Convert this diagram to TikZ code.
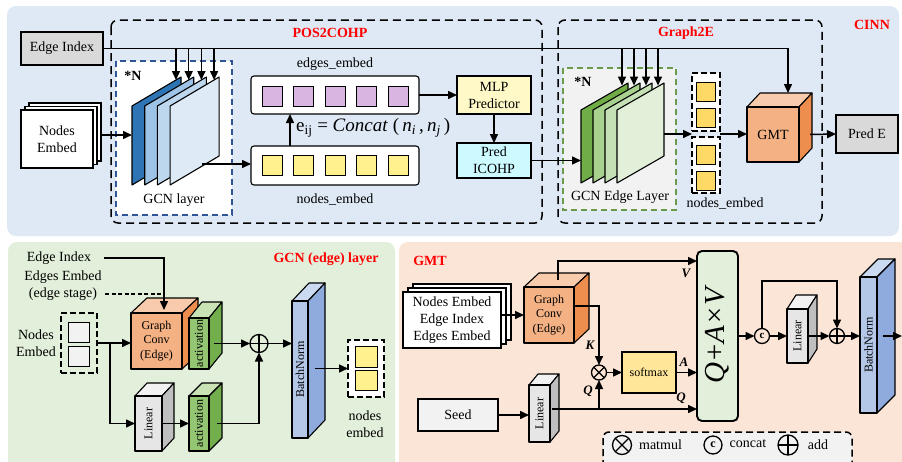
\documentclass[tikz,border=0pt]{standalone}
\usepackage{fontspec}
\setmainfont{Liberation Serif}
\usetikzlibrary{arrows.meta}
\definecolor{topbg}{HTML}{DEE9F5}
\definecolor{grnbg}{HTML}{E2EFDA}
\definecolor{pchbg}{HTML}{FBE5D6}
\definecolor{gry}{HTML}{D9D9D9}
\definecolor{ltg}{HTML}{F2F2F2}
\definecolor{purp}{HTML}{D9B5E1}
\definecolor{yel}{HTML}{FFF18E}
\definecolor{gold}{HTML}{FFD966}
\definecolor{mlpc}{HTML}{FFF9C8}
\definecolor{cyanc}{HTML}{CCFAFF}
\definecolor{titred}{HTML}{FF0000}
\definecolor{bluedash}{HTML}{2F5597}
\definecolor{grndash}{HTML}{6A9A4A}
\definecolor{smc}{HTML}{FFE699}
\definecolor{qavc}{HTML}{E2EFDA}
\definecolor{bA}{HTML}{2E75B6}
\definecolor{bB}{HTML}{9DC3E6}
\definecolor{bC}{HTML}{BDD7EE}
\definecolor{bD}{HTML}{DEEBF7}
\definecolor{gA}{HTML}{70AD47}
\definecolor{gB}{HTML}{A9D18E}
\definecolor{gC}{HTML}{C5E0B4}
\definecolor{gD}{HTML}{E2F0D9}
\definecolor{orF}{HTML}{F4B183}
\definecolor{orT}{HTML}{F8CBAD}
\definecolor{orS}{HTML}{EE8E4E}
\definecolor{acF}{HTML}{93C572}
\definecolor{acT}{HTML}{C9E3B5}
\definecolor{acS}{HTML}{72AE4C}
\definecolor{liF}{HTML}{E7E6E6}
\definecolor{liT}{HTML}{F2F2F2}
\definecolor{liS}{HTML}{BFBFBF}
\definecolor{bnF}{HTML}{B4C7E7}
\definecolor{bnT}{HTML}{CADAF0}
\definecolor{bnS}{HTML}{8FAADC}

% cube: name, x1,y1,x2,y2 (front face), dx, dy (depth), colour prefix
\newcommand{\mkcube}[8]{%
  \draw[cubeln, fill=#8T] (#2,#3) -- ({#2+#6},{#3-#7}) -- ({#4+#6},{#3-#7}) -- (#4,#3) -- cycle;
  \draw[cubeln, fill=#8S] (#4,#3) -- ({#4+#6},{#3-#7}) -- ({#4+#6},{#5-#7}) -- (#4,#5) -- cycle;
  \node[cubeln, fill=#8F, inner sep=0pt, outer sep=0pt, minimum width={(#4-#2)*1pt}, minimum height={(#5-#3)*1pt}] (#1) at ({(#2+#4)/2},{(#3+#5)/2}) {};
}
% plate: left x, left top y, left bottom y, width, rise, colour
\newcommand{\mkplate}[6]{%
  \draw[line width=1.1pt, line join=round, fill=#6] (#1,#3) -- (#1,#2) -- ({#1+#4},{#2-#5}) -- ({#1+#4},{#3-#5}) -- cycle;
}
% box: name, x1,y1,x2,y2, style, text
\newcommand{\mkbox}[7]{%
  \node[#6, minimum width={(#4-#2)*1pt}, minimum height={(#5-#3)*1pt}] (#1) at ({(#2+#4)/2},{(#3+#5)/2}) {#7};
}
\newcommand{\otm}[4]{%
  \node[opc, minimum size=#4] (#1) at (#2,#3) {};
  \draw[line width=1.3pt] (#1.north west) -- (#1.south east) (#1.north east) -- (#1.south west);
}
\newcommand{\opl}[4]{%
  \node[opc, minimum size=#4] (#1) at (#2,#3) {};
  \draw[line width=1.3pt] (#1.north) -- (#1.south) (#1.east) -- (#1.west);
}

\begin{document}
\begin{tikzpicture}[x=1pt,y=-1pt,
  arr/.style={line width=1.5pt,-{Triangle[length=9pt,width=8pt]}},
  ln/.style={line width=1.5pt},
  bx/.style={draw, line width=1.1pt, inner sep=0pt, outer sep=0pt, align=center, font=\fontsize{14}{17}\selectfont},
  dbx/.style={draw, line width=1.5pt, dash pattern=on 8pt off 5pt, rounded corners=7pt},
  grp/.style={draw, line width=1.5pt, dash pattern=on 6pt off 3pt, inner sep=0pt, outer sep=0pt},
  sq/.style={draw, line width=1pt, inner sep=0pt, outer sep=0pt, minimum size=20pt},
  cubeln/.style={draw, line width=1.1pt, line join=round},
  t14/.style={font=\fontsize{14}{17}\selectfont, align=center, inner sep=1pt},
  t12/.style={font=\fontsize{12}{14.5}\selectfont, align=center, inner sep=1pt},
  ttl/.style={font=\fontsize{14}{17}\selectfont\bfseries, text=titred, inner sep=1pt},
  lab/.style={font=\fontsize{13}{15}\selectfont\bfseries\itshape, inner sep=1pt},
  opc/.style={circle, draw, line width=1.3pt, inner sep=0pt, outer sep=0pt},
]
\useasboundingbox (0,0) rectangle (902,461);
\clip (0,0) rectangle (902,461);
\fill[white] (0,0) rectangle (902,461);
% ---------- panels
\fill[topbg, rounded corners=9pt] (7,6) rectangle (899,236);
\fill[grnbg, rounded corners=9pt] (8,242) rectangle (395,480);
\fill[pchbg, rounded corners=9pt] (399,242) rectangle (920,480);

% ================= TOP PANEL
\draw[dbx] (111,20) rectangle (542,223);
\draw[dbx] (558,20) rectangle (822,223);
\node[ttl] at (330,33) {POS2COHP};
\node[ttl] at (686,33) {Graph2E};
\node[ttl] at (872,25) {CINN};

\mkbox{ei}{21}{32}{103}{65}{bx, fill=gry}{Edge Index}

% GCN layer block
\draw[bluedash, line width=1.3pt, dash pattern=on 6pt off 4pt, fill=white] (116,61) rectangle (232,215);
\node[font=\fontsize{14}{17}\selectfont\bfseries] at (133,76) {*N};
\node[t14] at (174,200) {GCN layer};
\mkplate{132}{106}{185}{49}{29}{bA}
\mkplate{144.7}{106}{185}{49}{29}{bB}
\mkplate{157.4}{106}{185}{49}{29}{bC}
\mkplate{170.1}{106}{185}{49}{29}{bD}

% Nodes Embed stack
\mkbox{ne3}{29}{103}{101}{161}{bx, fill=white}{}
\mkbox{ne2}{25}{106.5}{97}{164.5}{bx, fill=white}{}
\mkbox{ne1}{21}{110}{93}{168}{bx, fill=white}{Nodes\\Embed}
\coordinate (pl0) at (132,135);
\draw[arr] (ne3.east |- pl0) -- (pl0);

% embeddings
\mkbox{ee}{251}{76}{419}{114}{bx, fill=white, rounded corners=3pt}{}
\foreach \x in {272,303.5,335,366.5,398} \node[sq, fill=purp] at (\x,96) {};
\mkbox{nb}{251}{146}{419}{185}{bx, fill=white, rounded corners=3pt}{}
\foreach \x in {272,303.5,335,366.5,398} \node[sq, fill=yel] at (\x,165.5) {};
\node[t14] at (335,64) {edges\_embed};
\node[t14] at (335,200) {nodes\_embed};
\coordinate (up) at (290,0);
\draw[arr] (nb.north -| up) -- (ee.south -| up);
\node[anchor=west, font=\fontsize{19}{22}\selectfont, inner sep=0pt] (eq) at (296,128)
  {e\textsubscript{ij} = \textit{Concat} (\,\textit{n}\textsubscript{\textit{i}}\,,\,\textit{n}\textsubscript{\textit{j}}\,)};
\coordinate (pl3) at (202,164);
\draw[arr] (pl3) -- (nb.west |- pl3);

\mkbox{mlp}{457}{76}{531}{114}{bx, fill=mlpc}{MLP\\Predictor}
\mkbox{pic}{457}{143}{531}{178}{bx, fill=cyanc}{Pred\\ICOHP}
\draw[arr] (ee.east) -- (mlp.west |- ee.east);
\draw[arr] (mlp.south) -- (pic.north);

% Graph2E block
\draw[grndash, line width=1.3pt, dash pattern=on 6pt off 4pt, fill=ltg] (563,68) rectangle (676,210);
\node[font=\fontsize{14}{17}\selectfont\bfseries] at (583,82) {*N};
\node[t14] at (620,197) {GCN Edge Layer};
\mkplate{581}{110}{183}{47}{27}{gA}
\mkplate{593}{110}{183}{47}{27}{gB}
\mkplate{605}{110}{183}{47}{27}{gC}
\mkplate{617}{110}{183}{47}{27}{gD}
\coordinate (gp0) at (581,160.5);
\draw[arr] (pic.east) -- (gp0);

\mkbox{g1}{692}{73}{720}{131}{grp, fill=white}{}
\mkbox{g2}{692}{137}{720}{193}{grp, fill=white}{}
\node[sq, fill=gold, minimum size=19pt] at (706,91.5) {};
\node[sq, fill=gold, minimum size=19pt] at (706,117.5) {};
\node[sq, fill=gold, minimum size=19pt] at (706,154.5) {};
\node[sq, fill=gold, minimum size=19pt] at (706,180.5) {};
\node[t14] at (725,204) {nodes\_embed};
\coordinate (gp3) at (664,134);
\draw[arr] (gp3) -- (g2.west |- gp3);

\mkcube{gmt}{747}{107}{799}{162}{13}{14}{or}
\node[t14] at (gmt) {GMT};
\draw[arr] (g1.east |- gp3) -- (gmt.west |- gp3);
\mkbox{pe}{836}{115}{898}{153}{bx, fill=gry}{Pred E}
\draw[arr] ([xshift=11pt]gmt.east) -- (pe.west);

% edge index line and arrows
\coordinate (gmtTop) at (788,93);
\draw[arr] (ei.east) -| (gmtTop);
\foreach \x in {176,188.7,201.4,214.1} \draw[arr] (\x,48.5) -- (\x,80);
\foreach \x in {622,634,646,658} \draw[arr] (\x,48.5) -- (\x,85.5);

% ================= BOTTOM LEFT
\node[ttl] at (326,259) {GCN (edge) layer};
\node[t14] (bei) at (59,258) {Edge Index};
\node[t14] (bes) at (63,277) {Edges Embed};
\node[t14] (bst) at (63,294) {(edge stage)};

\node[t14] at (36,343) {Nodes\\Embed};
\mkbox{ig}{61}{313}{97}{373}{grp}{}
\node[sq, fill=ltg, minimum width=21pt, minimum height=20pt] at (78.5,332) {};
\node[sq, fill=ltg, minimum width=21pt, minimum height=20pt] at (78.5,356) {};

\mkcube{gc1}{131}{313}{182}{369}{16}{15}{or}
\node[t12] at (gc1) {Graph\\Conv\\(Edge)};
\mkcube{ac1}{189}{318}{209}{369}{13}{16}{ac}
\node[t12, rotate=90] at (ac1) {activation};
\mkcube{lin1}{135}{396}{162}{451}{12}{13}{li}
\node[t12, rotate=90] at (lin1) {Linear};
\mkcube{ac2}{189}{396}{209}{451}{13}{13}{ac}
\node[t12, rotate=90] at (ac2) {activation};
\mkcube{bn1}{292}{301}{308}{438}{17}{18}{bn}
\node[t12, rotate=90] at (bn1) {BatchNorm};
\opl{plus1}{259}{343.5}{18pt}

\coordinate (gc1top) at (164,310);
\draw[arr] ([xshift=12pt]bei.east) -| (gc1top);
\draw[line width=1.7pt, dash pattern=on 4pt off 2.5pt] ([xshift=7pt]bst.east) -- ++(56,0);
\draw[arr] (ig.east) -- (gc1.west |- ig.east);
\coordinate (br) at (110,343);
\draw[arr] (br) |- (lin1.west);
\draw[arr] ([xshift=5pt]ac1.east) -- (plus1.west);
\draw[arr] (plus1.east) -- (bn1.west |- plus1.east);
\draw[arr] ([xshift=1pt]lin1.east) -- (ac2.west);
\draw[arr] ([xshift=8pt]ac2.east) -| (plus1.south);

\mkbox{og}{348}{340}{384}{397}{grp, fill=white}{}
\node[sq, fill=yel, minimum width=22pt, minimum height=21pt] at (366,356.5) {};
\node[sq, fill=yel, minimum width=22pt, minimum height=20pt] at (366,380) {};
\draw[arr] ([xshift=7pt]bn1.east |- og.west) -- (og.west);
\node[t14] at (365,424) {nodes\\embed};

% ================= BOTTOM RIGHT (GMT)
\node[ttl] at (430,261) {GMT};
\mkbox{in3}{413}{284}{511}{340}{bx, fill=white}{}
\mkbox{in2}{408}{288}{506}{344}{bx, fill=white}{}
\mkbox{in1}{403}{292}{501}{348}{bx, fill=white}{Nodes Embed\\Edge Index\\Edges Embed}

\mkcube{gc2}{524}{287}{574}{343}{15}{14}{or}
\node[t12] at (gc2) {Graph\\Conv\\(Edge)};
\draw[arr] (in1.east |- gc2.west) -- (gc2.west);

\mkbox{seed}{418}{399}{498}{431}{bx, fill=ltg}{Seed}
\mkcube{lin2}{529}{385}{550}{442}{9}{11}{li}
\node[t12, rotate=90] at (lin2) {Linear};
\draw[arr] (seed.east) -- (lin2.west |- seed.east);

\otm{mm}{599}{372.5}{15pt}
\mkbox{sm}{622}{352}{676}{393}{bx, fill=smc, font=\fontsize{12}{14}\selectfont}{softmax}
\node[draw, line width=1.9pt, rounded corners=5pt, fill=qavc, minimum width=41pt, minimum height=170pt, inner sep=0pt, outer sep=0pt] (qav) at (717.5,336) {};
\node[rotate=90, font=\fontsize{29}{30}\selectfont\itshape] at (qav) {Q+A×V};

\coordinate (vS) at (558,280);
\coordinate (vY) at (0,261);
\draw[arr] (vS) |- (qav.west |- vY);
\node[lab] at (686,273) {V};
\coordinate (kS) at (575,306);
\draw[arr] (kS) -| (mm.north);
\node[lab] at (590,345) {K};
\coordinate (qS) at (552,409);
\draw[arr] (qS) -- (qav.west |- qS);
\draw[arr] (mm.south |- qS) -- (mm.south);
\node[lab] at (588,391) {Q};
\node[lab] at (681,398) {Q};
\draw[arr] (mm.east) -- (sm.west |- mm.east);
\draw[arr] (sm.east) -- (qav.west |- sm.east);
\node[lab] at (684,362) {A};

\node[opc, minimum size=15pt, font=\fontsize{11}{11}\selectfont\bfseries] (cc) at (762,336) {c};
\mkcube{lin3}{787}{309}{808}{363}{9}{14}{li}
\node[t12, rotate=90] at (lin3) {Linear};
\opl{plus2}{837}{336}{15pt}
\mkcube{bn2}{860}{277}{877}{413}{18}{18}{bn}
\node[t12, rotate=90] at (bn2) {BatchNorm};
\draw[arr] (qav.east) -- (cc.west);
\draw[arr] (cc.east) -- (lin3.west);
\coordinate (loopY) at (0,281);
\draw[arr] (cc.north) -- (cc.north |- loopY) -| (plus2.north);
\draw[arr] (lin3.east) -- (plus2.west);
\draw[arr] (plus2.east) -- (bn2.west |- plus2.east);
\coordinate (outR) at (902,336);
\draw[arr] ([xshift=6pt]bn2.east |- outR) -- (outR);

% legend
\draw[line width=1.5pt, dash pattern=on 7pt off 4pt, rounded corners=6pt, fill=ltg] (603,432) rectangle (852,485);
\otm{lg1}{622}{445}{19pt}
\node[t14] at (660.5,445) {matmul};
\node[opc, minimum size=18pt, font=\fontsize{12}{12}\selectfont\bfseries] (lg2) at (713,445) {c};
\node[t14] at (748,444) {concat};
\opl{lg3}{788}{445}{20pt}
\node[t14] at (818,445) {add};
\end{tikzpicture}
\end{document}
